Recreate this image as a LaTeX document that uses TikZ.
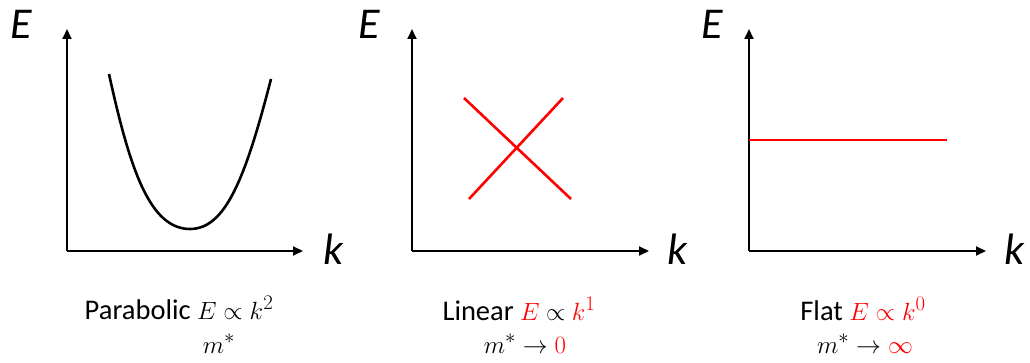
\documentclass[tikz,border=0pt]{standalone}
\usepackage{fontspec}
\setmainfont{Carlito}
\usetikzlibrary{arrows.meta}

\begin{document}
\begin{tikzpicture}[x=1pt, y=-1pt, font=\fontsize{28.5}{34}\selectfont]
    \tikzset{
        axis/.style={line width=1.8pt, -{Triangle[length=10pt, width=9pt]}},
        band/.style={line width=2.6pt},
        axlabel/.style={font=\fontsize{44}{50}\selectfont\itshape, anchor=base, inner sep=0pt},
        caption/.style={anchor=base, inner sep=0pt}
    }
    \useasboundingbox (0,0) rectangle (1030,363);

    % parabolic
    \coordinate (o1) at (67,251);
    \coordinate (e1) at (67,29);
    \coordinate (k1) at (303,251);
    \draw [axis] (o1) -- (e1);
    \draw [axis] (o1) -- (k1);
    \node (lE1) [axlabel] at (21,39) {E};
    \node (lk1) [axlabel] at (333,265) {k};
    \draw [band] (109,74) .. controls (130,170) and (150,229) .. (190,229)
        .. controls (225,229) and (245,180) .. (271,79);
    \node (t1) [caption] at (179,319) {Parabolic $E \propto k^2$};
    \node (m1) [caption] at (219,353) {$m^*$};

    % linear
    \coordinate (o2) at (412,251);
    \coordinate (e2) at (412,29);
    \coordinate (k2) at (649,251);
    \draw [axis] (o2) -- (e2);
    \draw [axis] (o2) -- (k2);
    \node (lE2) [axlabel] at (369,39) {E};
    \node (lk2) [axlabel] at (677,265) {k};
    \draw [band, red] (464,98) -- (571,199);
    \draw [band, red] (563,98) -- (469,199);
    \node (t2) [caption] at (519,320) {Linear \textcolor{red}{$E$} $\propto$ \textcolor{red}{$k^1$}};
    \node (m2) [caption] at (525,353) {$m^* \to \textcolor{red}{0}$};

    % flat
    \coordinate (o3) at (749,251);
    \coordinate (e3) at (749,29);
    \coordinate (k3) at (986,251);
    \draw [axis] (o3) -- (e3);
    \draw [axis] (o3) -- (k3);
    \node (lE3) [axlabel] at (712,39) {E};
    \node (lk3) [axlabel] at (1014,265) {k};
    \draw [band, red] (749,140) -- (947,140);
    \node (t3) [caption] at (863,320) {Flat \textcolor{red}{$E \propto k^0$}};
    \node (m3) [caption] at (865,353) {$m^* \to \textcolor{red}{\infty}$};
\end{tikzpicture}
\end{document}
